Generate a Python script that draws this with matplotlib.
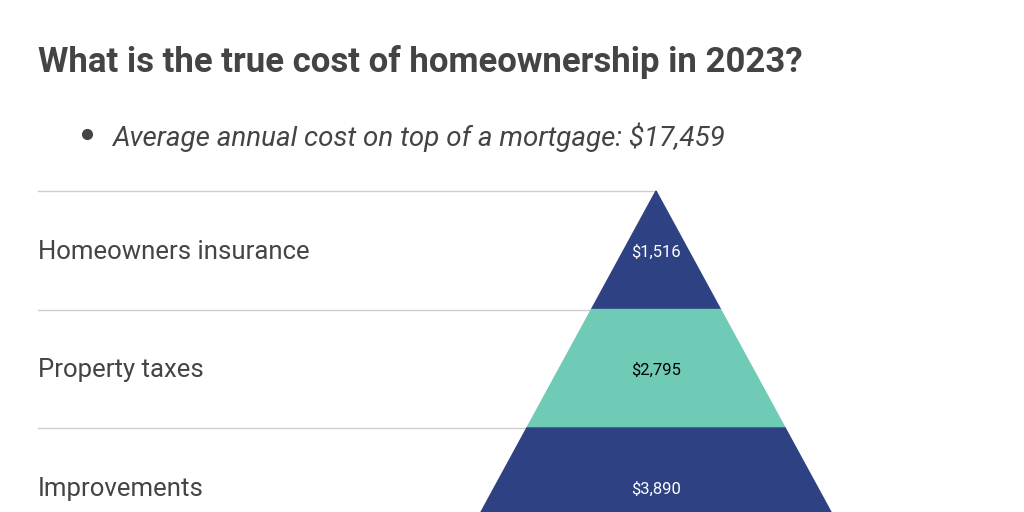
import matplotlib.pyplot as plt
from matplotlib.patches import Polygon

categories = ["Homeowners insurance", "Property taxes", "Improvements"]
values = [1516, 2795, 3890]
colors = ["#2e4182", "#70cbb6", "#2e4182"]
text_colors = ["white", "black", "white"]

plt.rcParams["font.family"] = "Roboto"
fig = plt.figure(figsize=(10.24, 5.12), dpi=100)
ax = fig.add_axes([0, 0, 1, 1])
ax.set_xlim(0, 1024)
ax.set_ylim(512, 0)
ax.axis("off")

ax.text(38, 62, "What is the true cost of homeownership in 2023?",
        fontsize=25, fontweight="bold", color="#444444", va="center")
ax.plot(87, 134, "o", color="#444444", ms=7)
ax.text(112, 137, "Average annual cost on top of a mortgage: $17,459",
        fontsize=20, style="italic", color="#444444", va="center")

# pyramid geometry in pixels
apex_x, top_y, band_h, slope = 656, 191, 118.5, 0.545
for i, (cat, val) in enumerate(zip(categories, values)):
    y0 = top_y + i * band_h
    y1 = y0 + band_h
    w0, w1 = (y0 - top_y) * slope, (y1 - top_y) * slope
    ax.plot([38, apex_x - w0], [y0, y0], color="#cccccc", lw=1, zorder=1)
    ax.add_patch(Polygon([(apex_x - w0, y0), (apex_x + w0, y0),
                          (apex_x + w1, y1), (apex_x - w1, y1)],
                         closed=True, color=colors[i], zorder=2))
    ax.text(38, y0 + 61, cat, fontsize=18.5, color="#444444", va="center")
    ax.text(apex_x, y0 + 61, f"${val:,}", fontsize=12, color=text_colors[i],
            ha="center", va="center", zorder=3)

fig.savefig("out.png", dpi=100)
